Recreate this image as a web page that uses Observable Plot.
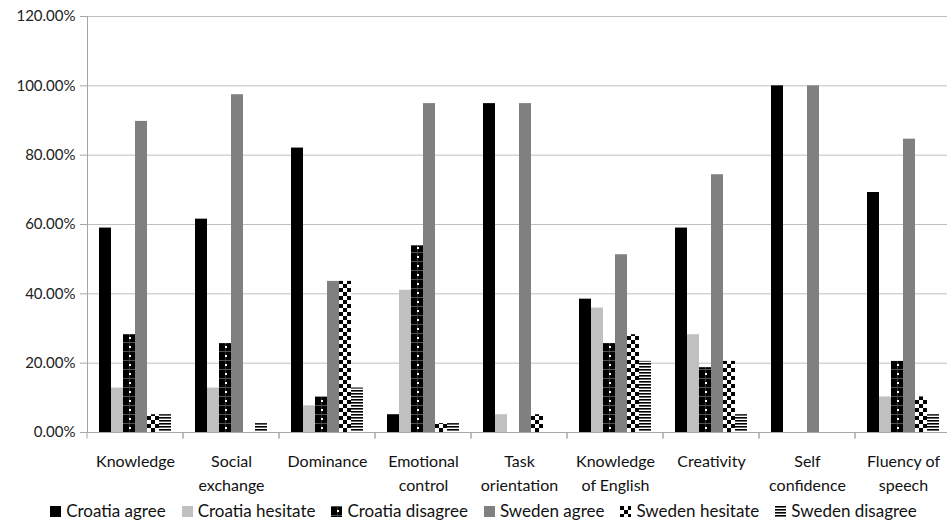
<!DOCTYPE html>
<html>
<head>
<meta charset="utf-8">
<script src="https://cdn.jsdelivr.net/npm/d3@7"></script>
<script src="https://cdn.jsdelivr.net/npm/@observablehq/plot@0.6"></script>
<style>
  html, body { margin: 0; padding: 0; background: #fff; overflow: hidden; width: 947px; height: 521px; position: relative; }
  #chart { width: 947px; overflow: hidden; }
  #chart svg { display: block; max-width: none !important; }
  #legend { position: absolute; left: 0; top: 502px; width: 947px; height: 18px; line-height: 18px; display: flex; justify-content: center; align-items: center;
    font-family: Lato, "Open Sans", sans-serif; font-size: 17px; color: #111; padding-left: 20px; box-sizing: border-box; }
  .item { display: inline-flex; align-items: center; margin: 0 8px; white-space: nowrap; }
  .item svg { margin-right: 5px; }
</style>
</head>
<body>
<svg width="0" height="0" style="position:absolute">
  <defs>
    <pattern id="pDots" patternUnits="userSpaceOnUse" width="12" height="9">
      <rect width="12" height="9" fill="#000"></rect>
      <rect x="0" y="0" width="12" height="0.8" fill="#666"></rect>
      <rect x="6" y="0" width="0.6" height="9" fill="#555"></rect>
      <rect x="6" y="4" width="2" height="2" fill="#fff"></rect>
    </pattern>
    <pattern id="pChecker" patternUnits="userSpaceOnUse" width="8" height="8">
      <rect width="8" height="8" fill="#fff"></rect>
      <rect x="0" y="0" width="4" height="4" fill="#000"></rect>
      <rect x="4" y="4" width="4" height="4" fill="#000"></rect>
    </pattern>
    <pattern id="pStripes" patternUnits="userSpaceOnUse" width="4" height="3">
      <rect width="4" height="3" fill="#fff"></rect>
      <rect x="0" y="0" width="4" height="1.6" fill="#000"></rect>
    </pattern>
  </defs>
</svg>
<div id="chart"></div>
<div id="legend"></div>
<script>
const categories = ["Knowledge", "Social exchange", "Dominance", "Emotional control", "Task orientation", "Knowledge of English", "Creativity", "Self confidence", "Fluency of speech"];
const tickLabels = ["Knowledge", "Social\nexchange", "Dominance", "Emotional\ncontrol", "Task\norientation", "Knowledge\nof English", "Creativity", "Self\nconfidence", "Fluency of\nspeech"];
const series = ["Croatia agree", "Croatia hesitate", "Croatia disagree", "Sweden agree", "Sweden hesitate", "Sweden disagree"];
const croatiaAgree    = [58.97, 61.54, 82.05, 5.13, 94.87, 38.46, 58.97, 100, 69.23];
const croatiaHesitate = [12.82, 12.82, 7.69, 41.03, 5.13, 35.90, 28.21, 0, 10.26];
const croatiaDisagree = [28.21, 25.64, 10.26, 53.85, 0, 25.64, 18.70, 0, 20.51];
const swedenAgree     = [89.74, 97.44, 43.59, 94.87, 94.87, 51.28, 74.36, 100, 84.62];
const swedenHesitate  = [5.13, 0, 43.59, 2.56, 5.13, 28.21, 20.51, 0, 10.26];
const swedenDisagree  = [5.13, 2.56, 12.82, 2.56, 0, 20.51, 5.13, 0, 5.13];
const yTicks = [0, 20, 40, 60, 80, 100, 120];
const fills = ["#000000", "#c0c0c0", "url(#pDots)", "#808080", "url(#pChecker)", "url(#pStripes)"];

const seriesValues = [croatiaAgree, croatiaHesitate, croatiaDisagree, swedenAgree, swedenHesitate, swedenDisagree];
const data = [];
categories.forEach((c, i) => series.forEach((s, j) => data.push({category: c, series: s, value: seriesValues[j][i]})));

const axisGray = "#a6a6a6";

const chart = Plot.plot({
  width: 953,
  height: 500,
  marginLeft: 84,
  marginRight: 0,
  marginTop: 16,
  marginBottom: 68,
  style: {fontFamily: "Lato, 'Open Sans', sans-serif", background: "#fff", maxWidth: "none"},
  fx: {domain: categories, padding: 0, label: null},
  x: {domain: series, paddingInner: 0, paddingOuter: 0.71, axis: null},
  y: {domain: [0, 120], label: null},
  color: {domain: series, range: fills, type: "ordinal"},
  marks: [
    Plot.gridY(yTicks, {stroke: "#bfbfbf", strokeOpacity: 1, strokeWidth: 1}),
    Plot.barY(data, {fx: "category", x: "series", y: "value", fill: "series"}),
    Plot.ruleY([0], {
      stroke: axisGray,
      render: (index, scales, values, dimensions, context, next) => {
        const g = next(index, scales, values, dimensions, context);
        const [r0, r1] = scales.x.range();
        const y0 = scales.y(0);
        for (const xe of [r0, r1]) {
          const line = document.createElementNS("http://www.w3.org/2000/svg", "line");
          line.setAttribute("x1", xe); line.setAttribute("x2", xe);
          line.setAttribute("y1", y0); line.setAttribute("y2", y0 + 6);
          line.setAttribute("stroke", axisGray);
          g.appendChild(line);
        }
        return g;
      }
    }),
    Plot.frame({anchor: "left", stroke: axisGray, facetAnchor: "left"}),
    Plot.axisY(yTicks, {tickFormat: d => d.toFixed(2) + "%", tickSize: 7, tickPadding: 5, stroke: axisGray, fill: "#222", fontSize: 15}),
    Plot.axisFx({anchor: "bottom", tickSize: 0, tickPadding: 17, fontSize: 16, lineHeight: 1.5, fill: "#111",
      tickFormat: d => tickLabels[categories.indexOf(d)], label: null})
  ]
});
document.getElementById("chart").appendChild(chart);

const legend = document.getElementById("legend");
series.forEach((s, j) => {
  const item = document.createElement("span");
  item.className = "item";
  item.innerHTML = `<svg width="11" height="11"><rect width="11" height="11" fill="${fills[j]}"></rect></svg><span>${s}</span>`;
  legend.appendChild(item);
});
</script>
</body>
</html>
